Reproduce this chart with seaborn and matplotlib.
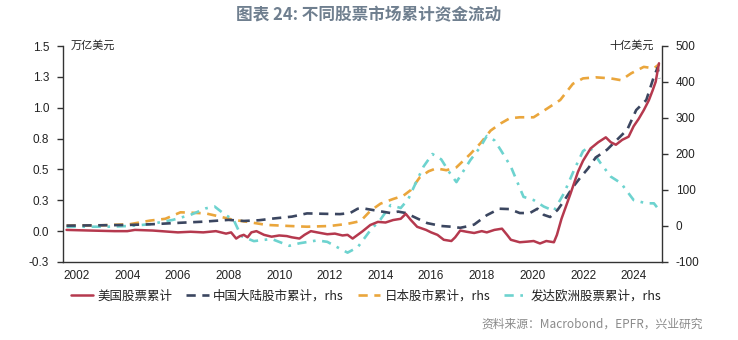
import matplotlib
matplotlib.use("Agg")
import matplotlib.pyplot as plt
import seaborn as sns
import pandas as pd
from matplotlib.ticker import FixedLocator, FixedFormatter

# ---------------- data ----------------
us_x = [2001.6, 2002.5, 2003.5, 2004.0, 2004.3, 2005.0, 2006.0, 2006.5, 2007.0, 2007.5,
        2007.9, 2008.1, 2008.3, 2008.45, 2008.6, 2008.75, 2008.9, 2009.1, 2009.4, 2009.7,
        2010.0, 2010.3, 2010.5, 2010.8, 2011.0, 2011.25, 2011.5, 2011.9, 2012.2, 2012.5,
        2012.7, 2012.9, 2013.1, 2013.3, 2013.6, 2013.9, 2014.2, 2014.5, 2014.8, 2015.0,
        2015.2, 2015.45, 2015.8, 2016.0, 2016.25, 2016.5, 2016.8, 2016.95, 2017.15, 2017.4,
        2017.7, 2018.0, 2018.2, 2018.5, 2018.8, 2019.0, 2019.15, 2019.5, 2019.8, 2020.05,
        2020.3, 2020.55, 2020.85, 2020.97, 2021.15, 2021.5, 2021.8, 2022.0, 2022.3, 2022.6,
        2022.9, 2023.1, 2023.3, 2023.55, 2023.8, 2024.0, 2024.2, 2024.4, 2024.6, 2024.75,
        2024.87, 2025.0]
us_v = [0.01, 0.005, 0.0, 0.0, 0.01, 0.005, -0.01, -0.005, -0.01, 0.0,
        -0.02, -0.01, -0.06, -0.04, -0.03, -0.05, -0.01, 0.0, -0.03, -0.045,
        -0.035, -0.04, -0.05, -0.06, -0.03, 0.0, -0.01, -0.025, -0.02, -0.035,
        -0.03, -0.06, -0.03, 0.0, 0.05, 0.075, 0.07, 0.09, 0.10, 0.14,
        0.09, 0.035, 0.01, -0.01, -0.03, -0.07, -0.08, -0.05, 0.005, -0.005,
        -0.015, 0.0, -0.01, 0.01, 0.02, -0.03, -0.07, -0.09, -0.085, -0.08,
        -0.10, -0.08, -0.09, -0.03, 0.10, 0.30, 0.48, 0.57, 0.67, 0.72,
        0.76, 0.72, 0.70, 0.74, 0.765, 0.85, 0.91, 0.98, 1.06, 1.14,
        1.21, 1.36]

cn_x = [2001.6, 2003.0, 2004.1, 2005.0, 2006.1, 2007.0, 2008.0, 2008.6, 2009.2, 2009.8,
        2010.5, 2011.1, 2011.7, 2012.4, 2012.8, 2013.1, 2013.4, 2013.9, 2014.4, 2014.7,
        2015.0, 2015.45, 2015.85, 2016.4, 2016.8, 2017.15, 2017.5, 2017.7, 2018.2, 2018.7,
        2019.1, 2019.5, 2019.9, 2020.2, 2020.45, 2020.7, 2021.0, 2021.25, 2021.6, 2021.9,
        2022.2, 2022.5, 2022.95, 2023.35, 2023.75, 2024.1, 2024.5, 2024.8, 2024.95, 2025.02]
cn_v = [1, 2, 3, 5, 9, 12, 17, 14, 16, 21,
        26, 35, 34, 33, 36, 48, 48, 42, 36, 40,
        36, 21, 8, 0, -2, -5, 0, 4, 30, 48,
        47, 36, 36, 48, 31, 25, 45, 70, 108, 135,
        160, 190, 212, 240, 268, 322, 350, 415, 440, 410]

jp_x = [2001.6, 2003.0, 2004.1, 2004.9, 2005.5, 2006.1, 2006.5, 2007.1, 2007.6, 2008.2,
        2008.7, 2009.5, 2010.4, 2011.1, 2012.0, 2012.7, 2013.1, 2013.3, 2013.6, 2014.0,
        2014.5, 2014.9, 2015.2, 2015.55, 2015.9, 2016.2, 2016.6, 2017.0, 2017.55, 2017.95,
        2018.35, 2018.75, 2019.1, 2019.5, 2020.05, 2020.6, 2021.1, 2021.6, 2022.0, 2022.5,
        2023.1, 2023.5, 2023.9, 2024.4, 2024.8, 2025.02]
jp_v = [1, 2, 5, 15, 20, 38, 37, 35, 27, 17,
        12, 3, 0, -2, 0, 6, 12, 20, 42, 62,
        75, 84, 100, 135, 152, 160, 155, 163, 200, 230,
        265, 285, 299, 302, 302, 327, 350, 395, 410, 413,
        410, 405, 424, 442, 438, 450]

eu_x = [2001.6, 2003.2, 2004.1, 2004.9, 2005.8, 2006.5, 2007.1, 2007.45, 2007.85, 2008.2,
        2008.5, 2009.0, 2009.7, 2010.4, 2010.8, 2011.5, 2011.9, 2012.4, 2012.7, 2013.1,
        2013.6, 2014.0, 2014.4, 2014.8, 2015.1, 2015.45, 2015.7, 2016.05, 2016.4, 2016.75,
        2017.0, 2017.55, 2017.95, 2018.2, 2018.5, 2018.75, 2019.15, 2019.65, 2020.05, 2020.45,
        2020.85, 2021.25, 2021.65, 2022.0, 2022.25, 2022.7, 2023.1, 2023.5, 2024.0, 2024.5,
        2024.8, 2025.0]
eu_v = [-2, -2, 0, 5, 17, 31, 49, 54, 32, 17,
        -28, -42, -36, -55, -48, -40, -44, -63, -74, -59,
        -12, 18, 58, 50, 75, 128, 165, 200, 185, 146,
        122, 183, 220, 250, 238, 211, 165, 81, 72, 54,
        42, 91, 156, 208, 220, 174, 137, 119, 72, 63,
        63, 45]

x_ticks = [2002, 2004, 2006, 2008, 2010, 2012, 2014, 2016, 2018, 2020, 2022, 2024]
left_ticks = [-0.25, 0.0, 0.25, 0.5, 0.75, 1.0, 1.25, 1.5]
left_labels = ["-0.3", "0.0", "0.3", "0.5", "0.8", "1.0", "1.3", "1.5"]
right_ticks = [-100, 0, 100, 200, 300, 400, 500]
right_labels = ["-100", "0", "100", "200", "300", "400", "500"]

names = ["美国股票累计", "中国大陆股市累计，rhs", "日本股市累计，rhs", "发达欧洲股票累计，rhs"]
title = "图表 24: 不同股票市场累计资金流动"
left_unit = "万亿美元"
right_unit = "十亿美元"
source = "资料来源：Macrobond，EPFR，兴业研究"

# ---------------- styling ----------------
sns.set_style("white")
plt.rcParams['font.family'] = ['Noto Sans CJK SC', 'DejaVu Sans']
plt.rcParams['axes.unicode_minus'] = False

c_us = "#b5394e"
c_cn = "#3b4660"
c_jp = "#eaa63c"
c_eu = "#6dd3cf"

fig = plt.figure(figsize=(7.38, 3.40), dpi=100)
ax = fig.add_axes([63/738, 1-262/340, (662-63)/738, (262-46)/340])
ax2 = ax.twinx()

df_us = pd.DataFrame({"x": us_x, "v": us_v})
df_cn = pd.DataFrame({"x": cn_x, "v": cn_v})
df_jp = pd.DataFrame({"x": jp_x, "v": jp_v})
df_eu = pd.DataFrame({"x": eu_x, "v": eu_v})

sns.lineplot(data=df_jp, x="x", y="v", ax=ax2, color=c_jp, lw=1.9,
             linestyle=(0, (3.5, 2.5)), estimator=None, sort=False)
sns.lineplot(data=df_eu, x="x", y="v", ax=ax2, color=c_eu, lw=1.9,
             linestyle=(0, (3.5, 2.5, 1, 2.5)), estimator=None, sort=False)
sns.lineplot(data=df_cn, x="x", y="v", ax=ax2, color=c_cn, lw=1.9,
             linestyle=(0, (3.5, 2.5)), estimator=None, sort=False)
sns.lineplot(data=df_us, x="x", y="v", ax=ax, color=c_us, lw=1.8,
             estimator=None, sort=False)

# put left-axis (red) line on top
ax.set_zorder(ax2.get_zorder() + 1)
ax.patch.set_visible(False)

ax.set_xlim(2001.46, 2025.12)
ax.set_ylim(-0.25, 1.5)
ax2.set_ylim(-100, 500)

tick_font = dict(family="Liberation Sans", size=8.5, color="#222222")
ax.xaxis.set_major_locator(FixedLocator(x_ticks))
ax.set_xticklabels([str(t) for t in x_ticks], **tick_font)
ax.yaxis.set_major_locator(FixedLocator(left_ticks))
ax.yaxis.set_major_formatter(FixedFormatter(left_labels))
ax2.yaxis.set_major_locator(FixedLocator(right_ticks))
ax2.yaxis.set_major_formatter(FixedFormatter(right_labels))
for lab in ax.get_yticklabels() + ax2.get_yticklabels():
    lab.set_fontfamily("Liberation Sans")
    lab.set_fontsize(8.5)
    lab.set_color("#222222")

for a in (ax, ax2):
    a.set_xlabel("")
    a.set_ylabel("")
    a.spines["top"].set_visible(False)
    for s in ("left", "right", "bottom"):
        a.spines[s].set_color("#333333")
        a.spines[s].set_linewidth(1.0)
    a.grid(False)
ax.spines["right"].set_visible(False)
ax2.spines["left"].set_visible(False)
ax2.spines["bottom"].set_visible(False)

ax.tick_params(axis="y", direction="out", length=4, width=1, color="#333333", pad=6)
ax.tick_params(axis="x", direction="out", length=3, width=1, color="#333333", pad=3)
ax2.tick_params(axis="y", direction="out", length=4, width=1, color="#333333", pad=6)

ax.text(0.012, 1.0, left_unit, transform=ax.transAxes, ha="left", va="center",
        fontsize=8, color="#222222")
ax2.text(0.986, 1.0, right_unit, transform=ax.transAxes, ha="right", va="center",
         fontsize=8, color="#222222")

fig.text(0.5, 1 - 15/340, title, ha="center", va="center", fontsize=12,
         fontweight="bold", color="#6f7f8f")

handles = [ax.lines[0], ax2.lines[2], ax2.lines[0], ax2.lines[1]]
leg = fig.legend(handles, names, loc="center", bbox_to_anchor=(366/738, 1 - 296/340),
                 ncol=4, frameon=False, fontsize=9, handlelength=1.8,
                 handletextpad=0.35, columnspacing=1.1, borderaxespad=0)
for t in leg.get_texts():
    t.set_color("#222222")

fig.text(703/738, 1 - 324/340, source, ha="right", va="center", fontsize=8.5,
         color="#8a8a8a")

fig.savefig("out.png", dpi=100)
